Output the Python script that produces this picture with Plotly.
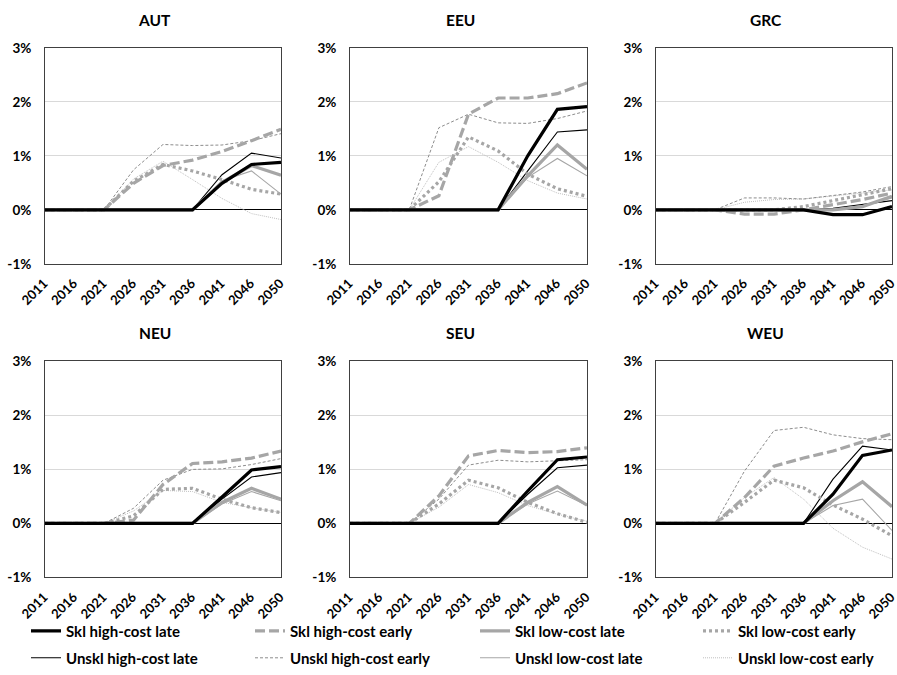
import plotly.graph_objects as go

# ---------------- data (percent) ----------------
YEARS = ["2011", "2016", "2021", "2026", "2031", "2036", "2041", "2046", "2050"]
REGIONS = ["AUT", "EEU", "GRC", "NEU", "SEU", "WEU"]
SERIES_NAMES = [
    "Skl high-cost late", "Skl high-cost early", "Skl low-cost late", "Skl low-cost early",
    "Unskl high-cost late", "Unskl high-cost early", "Unskl low-cost late", "Unskl low-cost early",
]
Y_TICK_VALUES = [-1, 0, 1, 2, 3]
Y_TICK_LABELS = ["-1%", "0%", "1%", "2%", "3%"]

AUT_SKL_HC_LATE = [0, 0, 0, 0, 0, 0, 0.49, 0.84, 0.88]
AUT_SKL_HC_EARLY = [0, 0, 0, 0.49, 0.82, 0.92, 1.08, 1.28, 1.49]
AUT_SKL_LC_LATE = [0, 0, 0, 0, 0, 0, 0.51, 0.82, 0.64]
AUT_SKL_LC_EARLY = [0, 0, 0, 0.53, 0.84, 0.72, 0.56, 0.38, 0.29]
AUT_UNS_HC_LATE = [0, 0, 0, 0, 0, 0, 0.65, 1.05, 0.96]
AUT_UNS_HC_EARLY = [0, 0, 0, 0.74, 1.21, 1.19, 1.20, 1.28, 1.41]
AUT_UNS_LC_LATE = [0, 0, 0, 0, 0, 0, 0.54, 0.72, 0.29]
AUT_UNS_LC_EARLY = [0, 0, 0, 0.57, 0.90, 0.56, 0.21, -0.07, -0.18]

EEU_SKL_HC_LATE = [0, 0, 0, 0, 0, 0, 1.00, 1.86, 1.91]
EEU_SKL_HC_EARLY = [0, 0, 0, 0.26, 1.77, 2.07, 2.07, 2.15, 2.35]
EEU_SKL_LC_LATE = [0, 0, 0, 0, 0, 0, 0.63, 1.20, 0.75]
EEU_SKL_LC_EARLY = [0, 0, 0, 0.52, 1.35, 1.09, 0.66, 0.39, 0.25]
EEU_UNS_HC_LATE = [0, 0, 0, 0, 0, 0, 0.72, 1.44, 1.48]
EEU_UNS_HC_EARLY = [0, 0, 0, 1.52, 1.77, 1.61, 1.60, 1.69, 1.83]
EEU_UNS_LC_LATE = [0, 0, 0, 0, 0, 0, 0.60, 0.95, 0.63]
EEU_UNS_LC_EARLY = [0, 0, 0, 0.88, 1.17, 0.88, 0.54, 0.31, 0.20]

GRC_SKL_HC_LATE = [0, 0, 0, 0, 0, 0, -0.09, -0.09, 0.06]
GRC_SKL_HC_EARLY = [0, 0, 0, -0.08, -0.08, 0, 0.09, 0.19, 0.31]
GRC_SKL_LC_LATE = [0, 0, 0, 0, 0, 0, 0.00, 0.06, 0.25]
GRC_SKL_LC_EARLY = [0, 0, 0, 0, 0, 0.06, 0.17, 0.28, 0.39]
GRC_UNS_HC_LATE = [0, 0, 0, 0, 0, 0, 0.03, 0.10, 0.17]
GRC_UNS_HC_EARLY = [0, 0, 0, 0.22, 0.22, 0.20, 0.27, 0.33, 0.43]
GRC_UNS_LC_LATE = [0, 0, 0, 0, 0, 0, 0.01, 0.07, 0.22]
GRC_UNS_LC_EARLY = [0, 0, 0, 0.14, 0.19, 0.20, 0.25, 0.31, 0.37]

NEU_SKL_HC_LATE = [0, 0, 0, 0, 0, 0, 0.49, 0.99, 1.05]
NEU_SKL_HC_EARLY = [0, 0, 0, 0.06, 0.72, 1.11, 1.14, 1.21, 1.34]
NEU_SKL_LC_LATE = [0, 0, 0, 0, 0, 0, 0.39, 0.65, 0.45]
NEU_SKL_LC_EARLY = [0, 0, 0, 0.14, 0.63, 0.65, 0.45, 0.29, 0.20]
NEU_UNS_HC_LATE = [0, 0, 0, 0, 0, 0, 0.45, 0.86, 0.94]
NEU_UNS_HC_EARLY = [0, 0, 0, 0.28, 0.80, 1.00, 1.01, 1.09, 1.20]
NEU_UNS_LC_LATE = [0, 0, 0, 0, 0, 0, 0.36, 0.59, 0.42]
NEU_UNS_LC_EARLY = [0, 0, 0, 0.23, 0.61, 0.59, 0.39, 0.29, 0.20]

SEU_SKL_HC_LATE = [0, 0, 0, 0, 0, 0, 0.60, 1.18, 1.23]
SEU_SKL_HC_EARLY = [0, 0, 0, 0.51, 1.25, 1.35, 1.31, 1.33, 1.40]
SEU_SKL_LC_LATE = [0, 0, 0, 0, 0, 0, 0.39, 0.68, 0.34]
SEU_SKL_LC_EARLY = [0, 0, 0, 0.36, 0.80, 0.66, 0.39, 0.18, 0.02]
SEU_UNS_HC_LATE = [0, 0, 0, 0, 0, 0, 0.54, 1.03, 1.08]
SEU_UNS_HC_EARLY = [0, 0, 0, 0.45, 1.08, 1.17, 1.14, 1.16, 1.18]
SEU_UNS_LC_LATE = [0, 0, 0, 0, 0, 0, 0.36, 0.60, 0.33]
SEU_UNS_LC_EARLY = [0, 0, 0, 0.30, 0.72, 0.57, 0.33, 0.17, 0.04]

WEU_SKL_HC_LATE = [0, 0, 0, 0, 0, 0, 0.54, 1.26, 1.36]
WEU_SKL_HC_EARLY = [0, 0, 0, 0.48, 1.06, 1.21, 1.34, 1.51, 1.66]
WEU_SKL_LC_LATE = [0, 0, 0, 0, 0, 0, 0.42, 0.77, 0.31]
WEU_SKL_LC_EARLY = [0, 0, 0, 0.39, 0.80, 0.66, 0.34, 0.08, -0.23]
WEU_UNS_HC_LATE = [0, 0, 0, 0, 0, 0, 0.82, 1.43, 1.36]
WEU_UNS_HC_EARLY = [0, 0, 0, 0.97, 1.72, 1.78, 1.64, 1.57, 1.55]
WEU_UNS_LC_LATE = [0, 0, 0, 0, 0, 0, 0.33, 0.45, -0.13]
WEU_UNS_LC_EARLY = [0, 0, 0, 0.48, 0.85, 0.45, -0.09, -0.44, -0.66]

DATA = {
    "AUT": [AUT_SKL_HC_LATE, AUT_SKL_HC_EARLY, AUT_SKL_LC_LATE, AUT_SKL_LC_EARLY,
            AUT_UNS_HC_LATE, AUT_UNS_HC_EARLY, AUT_UNS_LC_LATE, AUT_UNS_LC_EARLY],
    "EEU": [EEU_SKL_HC_LATE, EEU_SKL_HC_EARLY, EEU_SKL_LC_LATE, EEU_SKL_LC_EARLY,
            EEU_UNS_HC_LATE, EEU_UNS_HC_EARLY, EEU_UNS_LC_LATE, EEU_UNS_LC_EARLY],
    "GRC": [GRC_SKL_HC_LATE, GRC_SKL_HC_EARLY, GRC_SKL_LC_LATE, GRC_SKL_LC_EARLY,
            GRC_UNS_HC_LATE, GRC_UNS_HC_EARLY, GRC_UNS_LC_LATE, GRC_UNS_LC_EARLY],
    "NEU": [NEU_SKL_HC_LATE, NEU_SKL_HC_EARLY, NEU_SKL_LC_LATE, NEU_SKL_LC_EARLY,
            NEU_UNS_HC_LATE, NEU_UNS_HC_EARLY, NEU_UNS_LC_LATE, NEU_UNS_LC_EARLY],
    "SEU": [SEU_SKL_HC_LATE, SEU_SKL_HC_EARLY, SEU_SKL_LC_LATE, SEU_SKL_LC_EARLY,
            SEU_UNS_HC_LATE, SEU_UNS_HC_EARLY, SEU_UNS_LC_LATE, SEU_UNS_LC_EARLY],
    "WEU": [WEU_SKL_HC_LATE, WEU_SKL_HC_EARLY, WEU_SKL_LC_LATE, WEU_SKL_LC_EARLY,
            WEU_UNS_HC_LATE, WEU_UNS_HC_EARLY, WEU_UNS_LC_LATE, WEU_UNS_LC_EARLY],
}

# ---------------- styles ----------------
STYLES = [
    dict(color="#000000", width=3.2, dash="solid"),
    dict(color="#a6a6a6", width=3.2, dash="10px,4px"),
    dict(color="#a6a6a6", width=3.2, dash="solid"),
    dict(color="#a6a6a6", width=3.2, dash="3px,3px"),
    dict(color="#000000", width=1.1, dash="solid"),
    dict(color="#8c8c8c", width=1.0, dash="3px,2px"),
    dict(color="#a6a6a6", width=1.1, dash="solid"),
    dict(color="#bfbfbf", width=1.0, dash="1px,1px"),
]
DRAW_ORDER = [7, 6, 5, 4, 3, 2, 1, 0]

W, H = 897, 675
FONT = "Lato"
COL_PX = [(45, 281), (350, 587), (656, 892)]
ROW_PX = [(48, 265), (363, 580)]
LEGEND_COL_PX = [26, 250, 475, 698]
LEGEND_ROW_PX = [634, 661]

fig = go.Figure()
layout = dict(
    width=W, height=H,
    margin=dict(l=0, r=0, t=0, b=0),
    paper_bgcolor="white", plot_bgcolor="white",
    font=dict(family=FONT, color="#000000"),
    showlegend=True,
)
annotations = []
shapes = []

for idx, region in enumerate(REGIONS):
    r, c = divmod(idx, 3)
    n = idx + 1
    xs = "" if n == 1 else str(n)
    x0p, x1p = COL_PX[c]
    y0p, y1p = ROW_PX[r]
    xdom = [x0p / W, x1p / W]
    ydom = [1 - y1p / H, 1 - y0p / H]
    layout["xaxis" + xs] = dict(
        domain=xdom, anchor="y" + xs, type="category",
        categoryorder="array", categoryarray=YEARS,
        range=[0, len(YEARS) - 1],
        showgrid=False, showline=True, mirror=True, linecolor="#404040", linewidth=1,
        ticks="", tickangle=-45, ticklabelstandoff=6, ticklabelshift=-1,
        tickfont=dict(family=FONT, size=13, weight="bold", color="#000000"),
        automargin=False, fixedrange=True,
    )
    layout["yaxis" + xs] = dict(
        domain=ydom, anchor="x" + xs, range=[-1, 3],
        tickvals=Y_TICK_VALUES, ticktext=Y_TICK_LABELS,
        showgrid=True, gridcolor="#d9d9d9", gridwidth=1,
        zeroline=True, zerolinecolor="#000000", zerolinewidth=1.2,
        showline=True, mirror=True, linecolor="#404040", linewidth=1,
        ticks="", ticklabelstandoff=10,
        tickfont=dict(family=FONT, size=13.5, weight="bold", color="#000000"),
        automargin=False, fixedrange=True,
    )
    for k in DRAW_ORDER:
        st = STYLES[k]
        lr, lc = divmod(k, 4)
        leg_idx = lr * 4 + lc + 1
        fig.add_trace(go.Scatter(
            x=YEARS, y=DATA[region][k], mode="lines", name=SERIES_NAMES[k],
            line=dict(color=st["color"], width=st["width"], dash=st["dash"]),
            xaxis="x" + xs, yaxis="y" + xs,
            showlegend=(idx == 0),
            legend="legend" if leg_idx == 1 else "legend%d" % leg_idx,
            hoverinfo="skip",
        ))
    # small tick marks along the zero line
    for yr in YEARS[1:-1]:
        shapes.append(dict(
            type="line", xref="x" + xs, yref="y" + xs,
            x0=yr, x1=yr, ysizemode="pixel", yanchor=0, y0=0, y1=-5,
            line=dict(color="#000000", width=1),
        ))
    annotations.append(dict(
        text=region, xref="x" + xs + " domain", yref="y" + xs + " domain",
        x=0.466, y=1, yshift=28, xanchor="center", yanchor="middle",
        showarrow=False, font=dict(family=FONT, size=15.5, weight="bold", color="#000000"),
    ))

# one small legend per legend entry, placed on a 4 x 2 grid
for k in range(len(SERIES_NAMES)):
    lr, lc = divmod(k, 4)
    leg_idx = lr * 4 + lc + 1
    key = "legend" if leg_idx == 1 else "legend%d" % leg_idx
    layout[key] = dict(
        orientation="v", xanchor="left", yanchor="middle",
        x=LEGEND_COL_PX[lc] / W, y=1 - LEGEND_ROW_PX[lr] / H,
        font=dict(family=FONT, size=15, weight="bold", color="#000000"),
        bgcolor="rgba(0,0,0,0)", itemwidth=30,
        itemclick=False, itemdoubleclick=False,
    )

layout["annotations"] = annotations
layout["shapes"] = shapes

fig.update_layout(**layout)
fig.write_html(
    "out.html",
    config={"displayModeBar": False},
    post_script="document.body.style.margin='0';document.body.style.overflow='hidden';",
)
